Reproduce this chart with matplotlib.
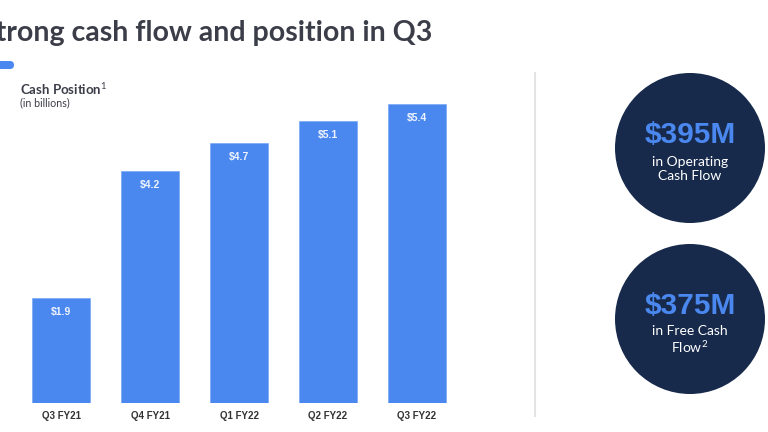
import matplotlib.pyplot as plt
from matplotlib.patches import Circle, FancyBboxPatch

plt.rcParams['mathtext.fontset'] = 'custom'
plt.rcParams['mathtext.rm'] = 'Lato'
plt.rcParams['mathtext.it'] = 'Lato:italic'
plt.rcParams['mathtext.bf'] = 'Lato:bold'

quarters = ['Q3 FY21', 'Q4 FY21', 'Q1 FY22', 'Q2 FY22', 'Q3 FY22']
cash = [1.9, 4.2, 4.7, 5.1, 5.4]
cash_labels = ['$1.9', '$4.2', '$4.7', '$5.1', '$5.4']

kpi_values = ['$395M', '$375M']
kpi_text = ['in Operating\nCash Flow', 'in Free Cash\nFlow$^2$']

bar_color = '#4a88f0'
navy = '#172a4b'
dark = '#3b3d48'

fig = plt.figure(figsize=(7.68, 4.32), dpi=100)
fig.patch.set_facecolor('white')

# background layer in pixel coords
bg = fig.add_axes([0, 0, 1, 1])
bg.set_xlim(0, 768)
bg.set_ylim(432, 0)
bg.set_axis_off()

# title runs off the left edge, as on the slide
bg.text(-20, 33, 'Strong cash flow and position in Q3', fontsize=20.5, fontweight='bold',
        family='Lato', color=dark, ha='left', va='center')
bg.add_patch(FancyBboxPatch((-10, 61), 24, 8, boxstyle='round,pad=0,rounding_size=4',
                            color=bar_color, lw=0))
bg.text(20, 89, r'Cash Position$^{1}$', fontsize=9.5, fontweight='bold', family='Lato',
        color=dark, ha='left', va='center')
bg.text(20, 103, '(in billions)', fontsize=7.7, family='Lato', color=dark,
        ha='left', va='center')

bg.plot([535, 535], [73, 416], color='#e3e3e6', lw=1.5)

centers = [(690, 148), (690, 319)]
for (cx, cy), val, txt in zip(centers, kpi_values, kpi_text):
    bg.add_patch(Circle((cx, cy), 75, color=navy, lw=0))
    bg.text(cx, cy - 13, val.replace('$', r'\$'), fontsize=21.5, fontweight='bold',
            family='Liberation Sans', color=bar_color, ha='center', va='center')
    bg.text(cx, cy + 21, txt, fontsize=10, family='Lato', color='white',
            ha='center', va='center', linespacing=1.15)

# bar chart
ax = fig.add_axes([0.0215, 0.0671, 0.5794, 0.768])
x = range(len(quarters))
ax.bar(x, cash, width=0.65, color=bar_color, edgecolor='#7aa8f5', linewidth=0.5)
ax.set_xlim(-0.5, len(quarters) - 0.5)
ax.set_ylim(0, 6)
ax.set_facecolor('none')
for s in ax.spines.values():
    s.set_visible(False)
ax.set_yticks([])
ax.set_xticks(list(x))
ax.set_xticklabels(quarters, fontsize=7, fontweight='bold', family='Liberation Sans',
                   color='#333333')
ax.tick_params(axis='x', length=0, pad=6)
for xi, v, lab in zip(x, cash, cash_labels):
    ax.annotate(lab, (xi, v), xytext=(0, -10), textcoords='offset points',
                ha='center', va='center', fontsize=7.5, fontweight='bold',
                family='Liberation Sans', color='#eef3fd')

fig.savefig('out.png', dpi=100)
